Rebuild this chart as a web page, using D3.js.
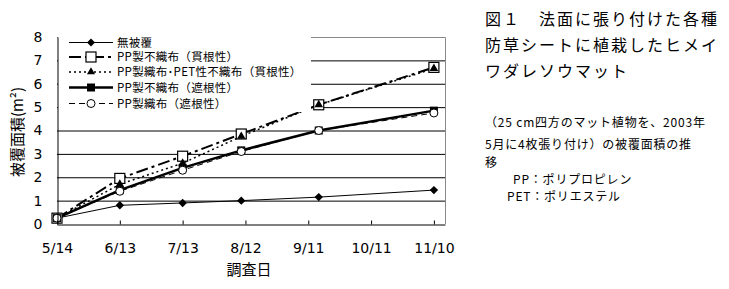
<!DOCTYPE html>
<html>
<head>
<meta charset="utf-8">
<script src="https://cdn.jsdelivr.net/npm/d3@7"></script>
<style>
  body { margin: 0; background: #fff; }
  svg { display: block; font-family: 'Noto Sans CJK JP', 'DejaVu Sans', sans-serif; }
</style>
</head>
<body>
<div id="chart"></div>
<script>
// survey days counted from 5/14
const pointDays = [0, 30, 60, 88, 125, 180]
const tickDays = [0, 30, 60, 90, 120, 150, 180]
const tickLabels = ['5/14', '6/13', '7/13', '8/12', '9/11', '10/11', '11/10']

const seriesNames = [
  '無被覆',
  'PP製不織布（貫根性）',
  'PP製織布･PET性不織布（貫根性）',
  'PP製不織布（遮根性）',
  'PP製織布（遮根性）'
]
const noCover = [0.25, 0.8, 0.9, 1.0, 1.15, 1.45]
const ppNonwovenPierce = [0.25, 1.95, 2.9, 3.85, 5.1, 6.7]
const ppWovenPetPierce = [0.25, 1.7, 2.6, 3.75, 5.1, 6.65]
const ppNonwovenBlock = [0.25, 1.45, 2.4, 3.15, 4.0, 4.85]
const ppWovenBlock = [0.25, 1.4, 2.3, 3.1, 4.0, 4.75]

const titleLines = ['図１　法面に張り付けた各種', '防草シートに植栽したヒメイ', 'ワダレソウマット']
const noteLines = ['（25 cm四方のマット植物を、2003年', '5月に4枚張り付け）の被覆面積の推', '移']
const abbrLines = ['PP：ポリプロピレン', 'PET：ポリエステル']

const width = 729
const height = 289
const margin = { top: 37, left: 57, right: 284, bottom: 65 }

const svg = d3
  .select('#chart')
  .append('svg')
  .attr('width', width)
  .attr('height', height)

const xPositionScale = d3.scaleLinear().domain([0, 185.3]).range([margin.left, width - margin.right])
const yPositionScale = d3.scaleLinear().domain([0, 8]).range([height - margin.bottom, margin.top])

const styles = [
  { data: noCover, width: 1, dash: null, marker: 'diamond' },
  { data: ppNonwovenPierce, width: 2, dash: '12,4,3,4', marker: 'openSquare' },
  { data: ppWovenPetPierce, width: 1.5, dash: '2,3', marker: 'triangle' },
  { data: ppNonwovenBlock, width: 2.5, dash: null, marker: 'square' },
  { data: ppWovenBlock, width: 1, dash: '6,4', marker: 'circle' }
]

const x0 = xPositionScale.range()[0]
const x1 = xPositionScale.range()[1]

// gridlines
svg
  .append('g')
  .selectAll('line')
  .data(d3.range(1, 8))
  .enter()
  .append('line')
  .attr('x1', x0)
  .attr('x2', x1)
  .attr('y1', d => yPositionScale(d) + 0.5)
  .attr('y2', d => yPositionScale(d) + 0.5)
  .attr('stroke', '#000')
  .attr('stroke-width', 1)

// top and right frame
svg
  .append('path')
  .attr('d', `M${x0},${yPositionScale(8) + 0.5}H${x1 + 0.5}V${yPositionScale(0)}`)
  .attr('fill', 'none')
  .attr('stroke', '#888')

const line = d3
  .line()
  .x((d, i) => xPositionScale(pointDays[i]))
  .y(d => yPositionScale(d))

function drawMarker(g, type, size) {
  if (type === 'diamond') {
    g.append('path').attr('d', d3.symbol(d3.symbolDiamond2, size * 4.5)).attr('fill', '#000')
  } else if (type === 'openSquare') {
    g.append('rect').attr('x', -5).attr('y', -5).attr('width', 10).attr('height', 10)
      .attr('fill', '#fff').attr('stroke', '#000').attr('stroke-width', 1.2)
  } else if (type === 'triangle') {
    g.append('path').attr('d', d3.symbol(d3.symbolTriangle, size * 3.2)).attr('fill', '#000')
  } else if (type === 'square') {
    g.append('rect').attr('x', -4).attr('y', -4).attr('width', 8).attr('height', 8).attr('fill', '#000')
  } else if (type === 'circle') {
    g.append('circle').attr('r', 4).attr('fill', '#fff').attr('stroke', '#000').attr('stroke-width', 1)
  }
}

styles.forEach(s => {
  svg
    .append('path')
    .datum(s.data)
    .attr('d', line)
    .attr('fill', 'none')
    .attr('stroke', '#000')
    .attr('stroke-width', s.width)
    .attr('stroke-dasharray', s.dash)
})

styles.forEach(s => {
  s.data.forEach((v, i) => {
    const g = svg
      .append('g')
      .attr('transform', `translate(${xPositionScale(pointDays[i])},${yPositionScale(v)})`)
    drawMarker(g, s.marker, 10)
  })
})

// legend (white box over the upper-left of the plot)
const legend = svg.append('g')
legend
  .append('rect')
  .attr('x', x0 + 1)
  .attr('y', yPositionScale(8) - 1)
  .attr('width', 253)
  .attr('height', 76)
  .attr('fill', '#fff')

const legendY = [42.5, 57, 72, 87.5, 103.5]
styles.forEach((s, i) => {
  legend
    .append('line')
    .attr('x1', 69)
    .attr('x2', 113)
    .attr('y1', legendY[i])
    .attr('y2', legendY[i])
    .attr('stroke', '#000')
    .attr('stroke-width', s.width)
    .attr('stroke-dasharray', s.dash)
  const g = legend.append('g').attr('transform', `translate(91,${legendY[i]})`)
  drawMarker(g, s.marker, 9)
  legend
    .append('text')
    .attr('x', 117)
    .attr('y', legendY[i])
    .attr('dy', '0.36em')
    .attr('font-size', 11.5)
    .attr('letter-spacing', 0.3)
    .text(seriesNames[i])
})

// axes
const xAxis = d3
  .axisBottom(xPositionScale)
  .tickValues(tickDays)
  .tickFormat((d, i) => tickLabels[i])
  .tickSizeInner(-4)
  .tickSizeOuter(0)
  .tickPadding(19)
svg
  .append('g')
  .attr('class', 'axis x-axis')
  .attr('transform', `translate(0,${yPositionScale(0) + 0.5})`)
  .call(xAxis)

const yAxis = d3.axisLeft(yPositionScale).ticks(8).tickSize(0).tickPadding(15)
svg
  .append('g')
  .attr('class', 'axis y-axis')
  .attr('transform', `translate(${x0 + 0.5},0)`)
  .call(yAxis)

svg.selectAll('.axis text').attr('font-size', 14).attr('font-family', "'DejaVu Sans', sans-serif").attr('fill', '#000')
svg.selectAll('.axis path, .axis line').attr('stroke', '#000')

svg
  .append('text')
  .attr('x', 249)
  .attr('y', 270)
  .attr('dy', '0.36em')
  .attr('text-anchor', 'middle')
  .attr('font-size', 15)
  .text('調査日')

svg
  .append('text')
  .attr('transform', 'translate(18,132) rotate(-90)')
  .attr('dy', '0.36em')
  .attr('text-anchor', 'middle')
  .attr('font-size', 15)
  .text('被覆面積(m²)')

// caption on the right
titleLines.forEach((t, i) => {
  svg
    .append('text')
    .attr('x', 485)
    .attr('y', 19 + i * 26)
    .attr('dy', '0.36em')
    .attr('font-size', 16)
    .attr('letter-spacing', 2)
    .text(t)
})
noteLines.forEach((t, i) => {
  svg
    .append('text')
    .attr('x', 485)
    .attr('y', [123, 145, 163][i])
    .attr('dy', '0.36em')
    .attr('font-size', 12)
    .attr('letter-spacing', 0.8)
    .text(t)
})
abbrLines.forEach((t, i) => {
  svg
    .append('text')
    .attr('x', [513, 507][i])
    .attr('y', [180, 197][i])
    .attr('dy', '0.36em')
    .attr('font-size', 12)
    .attr('letter-spacing', 0.8)
    .text(t)
})
</script>
</body>
</html>
